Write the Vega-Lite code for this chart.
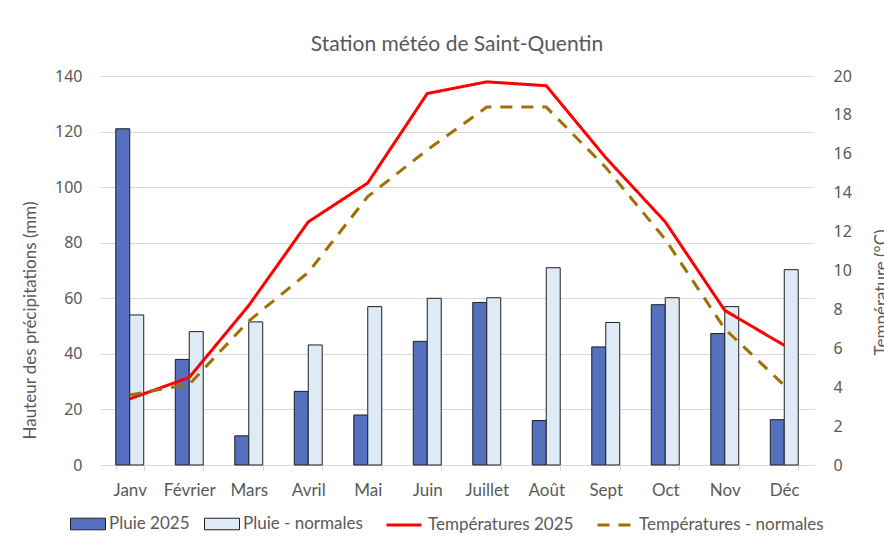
{
  "$schema": "https://vega.github.io/schema/vega-lite/v6.json",
  "width": 714,
  "height": 389,
  "autosize": {"type": "none"},
  "padding": {"left": 100, "top": 76, "right": 70, "bottom": 85},
  "background": "white",
  "config": {"view": {"stroke": null}},
  "title": {"text": "Station météo de Saint-Quentin", "font": "Lato", "fontSize": 21, "fontWeight": "normal", "color": "#595959", "anchor": "middle", "offset": 13},
  "datasets": {
    "pluie": [
      {"mois": "Janv", "serie": "Pluie 2025", "mm": 121},
      {"mois": "Février", "serie": "Pluie 2025", "mm": 38},
      {"mois": "Mars", "serie": "Pluie 2025", "mm": 10.5},
      {"mois": "Avril", "serie": "Pluie 2025", "mm": 26.5},
      {"mois": "Mai", "serie": "Pluie 2025", "mm": 18},
      {"mois": "Juin", "serie": "Pluie 2025", "mm": 44.5},
      {"mois": "Juillet", "serie": "Pluie 2025", "mm": 58.5},
      {"mois": "Août", "serie": "Pluie 2025", "mm": 16},
      {"mois": "Sept", "serie": "Pluie 2025", "mm": 42.5},
      {"mois": "Oct", "serie": "Pluie 2025", "mm": 57.7},
      {"mois": "Nov", "serie": "Pluie 2025", "mm": 47.3},
      {"mois": "Déc", "serie": "Pluie 2025", "mm": 16.3},
      {"mois": "Janv", "serie": "Pluie - normales", "mm": 54},
      {"mois": "Février", "serie": "Pluie - normales", "mm": 48},
      {"mois": "Mars", "serie": "Pluie - normales", "mm": 51.5},
      {"mois": "Avril", "serie": "Pluie - normales", "mm": 43.2},
      {"mois": "Mai", "serie": "Pluie - normales", "mm": 57},
      {"mois": "Juin", "serie": "Pluie - normales", "mm": 60},
      {"mois": "Juillet", "serie": "Pluie - normales", "mm": 60.2},
      {"mois": "Août", "serie": "Pluie - normales", "mm": 71},
      {"mois": "Sept", "serie": "Pluie - normales", "mm": 51.3},
      {"mois": "Oct", "serie": "Pluie - normales", "mm": 60.2},
      {"mois": "Nov", "serie": "Pluie - normales", "mm": 57},
      {"mois": "Déc", "serie": "Pluie - normales", "mm": 70.3}
    ],
    "temp": [
      {"mois": "Janv", "serie": "Températures 2025", "deg": 3.4},
      {"mois": "Février", "serie": "Températures 2025", "deg": 4.5},
      {"mois": "Mars", "serie": "Températures 2025", "deg": 8.2},
      {"mois": "Avril", "serie": "Températures 2025", "deg": 12.5},
      {"mois": "Mai", "serie": "Températures 2025", "deg": 14.5},
      {"mois": "Juin", "serie": "Températures 2025", "deg": 19.1},
      {"mois": "Juillet", "serie": "Températures 2025", "deg": 19.7},
      {"mois": "Août", "serie": "Températures 2025", "deg": 19.5},
      {"mois": "Sept", "serie": "Températures 2025", "deg": 15.8},
      {"mois": "Oct", "serie": "Températures 2025", "deg": 12.5},
      {"mois": "Nov", "serie": "Températures 2025", "deg": 7.95},
      {"mois": "Déc", "serie": "Températures 2025", "deg": 6.15},
      {"mois": "Janv", "serie": "Températures - normales", "deg": 3.6},
      {"mois": "Février", "serie": "Températures - normales", "deg": 4.15},
      {"mois": "Mars", "serie": "Températures - normales", "deg": 7.4},
      {"mois": "Avril", "serie": "Températures - normales", "deg": 9.9},
      {"mois": "Mai", "serie": "Températures - normales", "deg": 13.8},
      {"mois": "Juin", "serie": "Températures - normales", "deg": 16.2},
      {"mois": "Juillet", "serie": "Températures - normales", "deg": 18.4},
      {"mois": "Août", "serie": "Températures - normales", "deg": 18.4},
      {"mois": "Sept", "serie": "Températures - normales", "deg": 15.3},
      {"mois": "Oct", "serie": "Températures - normales", "deg": 11.6},
      {"mois": "Nov", "serie": "Températures - normales", "deg": 7.0},
      {"mois": "Déc", "serie": "Températures - normales", "deg": 4.1}
    ]
  },
  "layer": [
    {
      "data": {"name": "pluie"},
      "mark": {"type": "bar", "stroke": "#1f1f1f", "strokeWidth": 1},
      "encoding": {
        "x": {
          "field": "mois", "type": "nominal",
          "sort": ["Janv", "Février", "Mars", "Avril", "Mai", "Juin", "Juillet", "Août", "Sept", "Oct", "Nov", "Déc"],
          "scale": {"paddingInner": 0.53, "paddingOuter": 0.265},
          "axis": {
            "title": null, "labelAngle": 0, "labelFont": "Lato", "labelFontSize": 17, "labelColor": "#595959",
            "labelPadding": 12, "tickBand": "extent", "ticks": true, "tickSize": 5, "tickColor": "#d9d9d9",
            "domainColor": "#d9d9d9", "grid": false
          }
        },
        "xOffset": {"field": "serie", "type": "nominal", "sort": ["Pluie 2025", "Pluie - normales"]},
        "y": {
          "field": "mm", "type": "quantitative",
          "scale": {"domain": [0, 140]},
          "axis": {
            "title": "Hauteur des précipitations (mm)", "titleFont": "Lato", "titleFontSize": 17, "titleFontWeight": "normal",
            "titleColor": "#595959", "titleAngle": -90, "titleX": -70, "titleY": 244, "titleBaseline": "middle", "titleAlign": "center",
            "values": [0, 20, 40, 60, 80, 100, 120, 140],
            "labelFont": "Noto Sans", "labelFontSize": 16, "labelColor": "#595959", "labelPadding": 18,
            "ticks": false, "domain": false, "grid": true, "gridColor": "#d9d9d9", "gridWidth": 1.2
          }
        },
        "fill": {
          "field": "serie", "type": "nominal",
          "sort": ["Pluie 2025", "Pluie - normales"],
          "scale": {"domain": ["Pluie 2025", "Pluie - normales"], "range": ["#5470BE", "#DEEAF6"]},
          "legend": {
            "title": null, "orient": "none", "direction": "horizontal", "legendX": -30, "legendY": 430, "padding": 0,
            "labelFont": "Lato", "labelFontSize": 17, "labelColor": "#595959", "labelLimit": 400, "labelOffset": 3,
            "columnPadding": 12, "symbolSize": 1225, "symbolType": "M-1,-0.33H1V0.33H-1Z",
            "symbolStrokeColor": "#1f1f1f", "symbolStrokeWidth": 1, "symbolOpacity": 1
          }
        }
      }
    },
    {
      "data": {"name": "temp"},
      "mark": {"type": "line", "strokeWidth": 3},
      "encoding": {
        "x": {
          "field": "mois", "type": "nominal",
          "sort": ["Janv", "Février", "Mars", "Avril", "Mai", "Juin", "Juillet", "Août", "Sept", "Oct", "Nov", "Déc"]
        },
        "y": {
          "field": "deg", "type": "quantitative",
          "scale": {"domain": [0, 20]},
          "axis": {
            "orient": "right",
            "title": "Température (°C)", "titleFont": "Lato", "titleFontSize": 17, "titleFontWeight": "normal",
            "titleColor": "#595959", "titleAngle": 270, "titleX": 72, "titleY": 216, "titleBaseline": "alphabetic", "titleAlign": "center",
            "values": [0, 2, 4, 6, 8, 10, 12, 14, 16, 18, 20],
            "labelFont": "Noto Sans", "labelFontSize": 16, "labelColor": "#595959", "labelPadding": 19,
            "ticks": false, "domain": false, "grid": false
          }
        },
        "stroke": {
          "field": "serie", "type": "nominal",
          "sort": ["Températures 2025", "Températures - normales"],
          "scale": {"domain": ["Températures 2025", "Températures - normales"], "range": ["#FF0000", "#A07000"]},
          "legend": {
            "title": null, "orient": "none", "direction": "horizontal", "legendX": 285, "legendY": 430, "padding": 0,
            "labelFont": "Lato", "labelFontSize": 17, "labelColor": "#595959", "labelLimit": 400, "labelOffset": 5,
            "columnPadding": 17, "symbolSize": 1225, "symbolType": "stroke", "symbolStrokeWidth": 3, "symbolOpacity": 1
          }
        },
        "strokeDash": {
          "field": "serie", "type": "nominal",
          "sort": ["Températures 2025", "Températures - normales"],
          "scale": {"domain": ["Températures 2025", "Températures - normales"], "range": [[1, 0], [12, 9]]},
          "legend": {
            "title": null, "orient": "none", "direction": "horizontal", "legendX": 285, "legendY": 430, "padding": 0,
            "labelFont": "Lato", "labelFontSize": 17, "labelColor": "#595959", "labelLimit": 400, "labelOffset": 5,
            "columnPadding": 17, "symbolSize": 1225, "symbolType": "stroke", "symbolStrokeWidth": 3, "symbolOpacity": 1
          }
        }
      }
    }
  ],
  "resolve": {"scale": {"y": "independent"}}
}
